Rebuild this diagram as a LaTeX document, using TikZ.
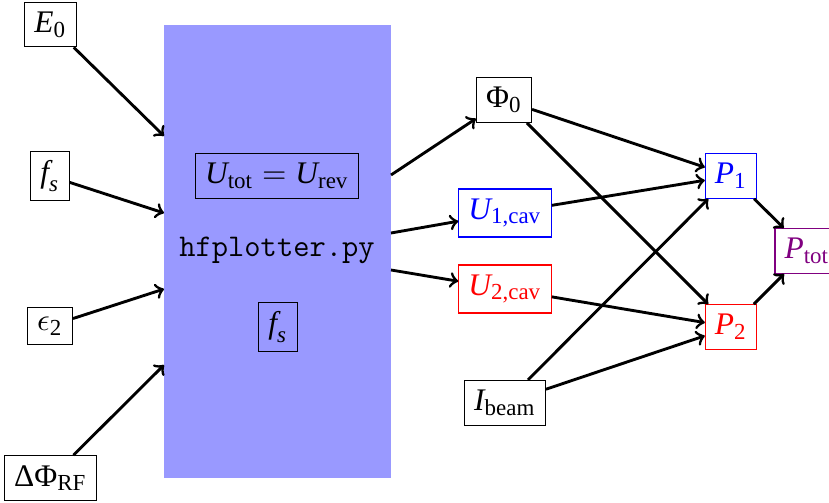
\documentclass[tikz,border=0pt]{standalone}
\usepackage{amsmath}
\usepackage{fontspec}
\setmainfont{Liberation Serif}
\definecolor{ptotc}{RGB}{128,0,128}
\newcommand{\mymi}[1]{\text{\itshape #1}}
\begin{document}
\begin{tikzpicture}[x=0.3485pt,y=-0.3485pt,
  every node/.style={font=\fontsize{10.95}{13}\selectfont},
  box/.style={draw, inner sep=3.333pt},
  bluebox/.style={box, draw=blue, text=blue},
  redbox/.style={box, draw=red, text=red},
  purplebox/.style={box, draw=ptotc, text=ptotc},
  arr/.style={->, line width=1pt},
]
\useasboundingbox (0,0) rectangle (829,502);
% processing block
\node[fill=blue!40, minimum width=79.1pt, minimum height=157.9pt, inner sep=0pt] (rect) at (277.5,251.5) {};
\node[box] (utot) at (277,176) {$\mymi{U}_{\text{tot}} = \mymi{U}_{\text{rev}}$};
\node (hf) at (277,250) {\fontsize{11}{13}\selectfont\ttfamily hfplotter.py};
\node[box] (fsin) at (278,327) {$\mymi{f}_{\mymi{s}}$};
% inputs
\node[box] (e0) at (50.5,24.5) {$\mymi{E}_{\text{0}}$};
\node[box] (fs) at (50,176) {$\mymi{f}_{\mymi{s}}$};
\node[box] (eps) at (50,326) {$\epsilon_{\text{2}}$};
\node[box] (dphi) at (50.5,478) {$\text{ΔΦ}_{\text{RF}}$};
% ports on block
\coordinate (in1) at (164,136);
\coordinate (in2) at (164,213);
\coordinate (in3) at (164,289);
\coordinate (in4) at (164,365);
\coordinate (out1) at (391,175);
\coordinate (out2) at (391,233);
\coordinate (out3) at (391,270);
% middle column
\node[box] (phi0) at (504,100) {$\text{Φ}_{\text{0}}$};
\node[bluebox] (u1) at (505,213) {$\mymi{U}_{\text{1,cav}}$};
\node[redbox] (u2) at (505,289) {$\mymi{U}_{\text{2,cav}}$};
\node[box] (ib) at (505,403) {$\mymi{I}_{\text{beam}}$};
% right column
\node[bluebox] (p1) at (731,176) {$\mymi{P}_{\text{1}}$};
\node[redbox] (p2) at (731,327) {$\mymi{P}_{\text{2}}$};
\node[purplebox] (ptot) at (807,251) {$\mymi{P}_{\text{tot}}$};
% connectors
\draw[arr] (e0) -- (in1);
\draw[arr] (fs) -- (in2);
\draw[arr] (eps) -- (in3);
\draw[arr] (dphi) -- (in4);
\draw[arr] (out1) -- (phi0);
\draw[arr] (out2) -- (u1);
\draw[arr] (out3) -- (u2);
\draw[arr] (phi0) -- (p1);
\draw[arr] (phi0) -- (p2);
\draw[arr] (u1) -- (p1);
\draw[arr] (u2) -- (p2);
\draw[arr] (ib) -- (p1);
\draw[arr] (ib) -- (p2);
\draw[arr] (p1) -- (ptot);
\draw[arr] (p2) -- (ptot);
\end{tikzpicture}
\end{document}
